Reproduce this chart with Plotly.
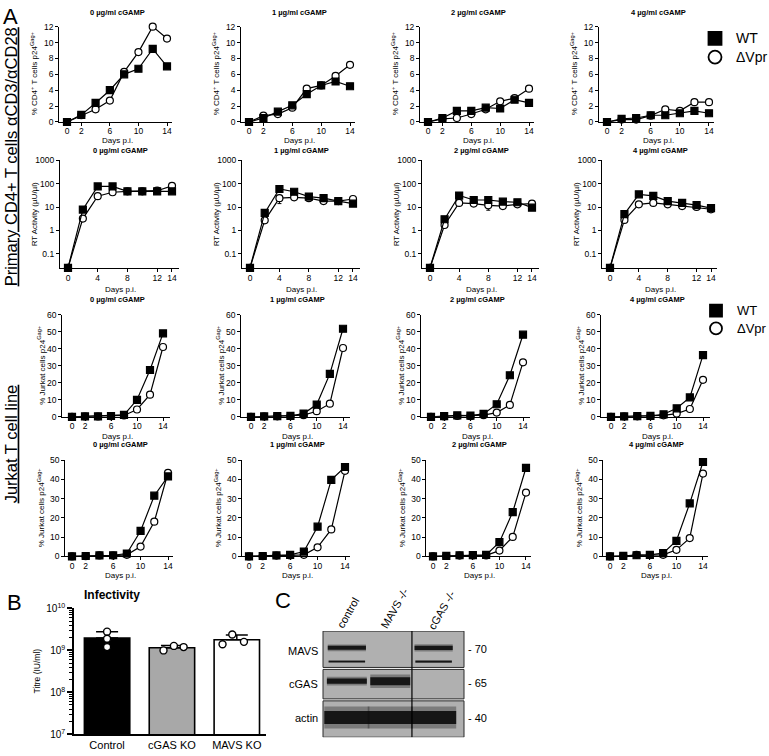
import plotly.graph_objects as go
import statistics

W, H = 769, 756
FONT = "Liberation Sans"

# ---------------- data ----------------
days = [0, 2, 4, 6, 8, 10, 12, 14]
doses = ["0 µg/ml cGAMP", "1 µg/ml cGAMP", "2 µg/ml cGAMP", "4 µg/ml cGAMP"]
series_names = ["WT", "ΔVpr"]

# % CD4+ T cells p24Gag+ (primary cells)
cd4_wt = [
    [0, 0.9, 2.4, 4.0, 6.0, 6.7, 9.2, 7.0],
    [0, 0.5, 1.3, 2.1, 3.5, 4.6, 5.1, 4.5],
    [0, 0.5, 1.4, 1.4, 1.8, 1.7, 2.8, 2.4],
    [0, 0.4, 0.5, 0.85, 0.85, 1.1, 1.4, 1.1],
]
cd4_dvpr = [
    [0, 0.85, 1.6, 2.7, 6.3, 8.8, 12.0, 10.5],
    [0, 0.8, 1.0, 1.8, 4.2, 4.6, 5.8, 7.2],
    [0, 0.4, 0.5, 1.0, 1.6, 2.6, 3.0, 4.2],
    [0, 0.3, 0.3, 0.8, 1.6, 1.4, 2.5, 2.5],
]

# RT activity (µU/µl)
rt_wt = [
    [0.025, 7.8, 76, 76, 47, 47, 47, 47],
    [0.025, 5.6, 59, 45, 28, 24, 18, 14],
    [0.025, 3.0, 31, 20, 20, 17, 16, 9.4],
    [0.025, 5.0, 35, 30, 18, 15, 12, 9],
]
rt_dvpr = [
    [0.025, 3.2, 29, 43, 47, 47, 50, 81],
    [0.025, 2.7, 24, 26, 24, 18, 18, 22],
    [0.025, 1.7, 15, 14, 11.8, 11, 13, 14],
    [0.025, 2.8, 13, 15, 13, 11, 10, 8],
]
rt_wt_sd = [
    [0, 0, 0, 0, 0, 0, 0, 0],
    [0, 0, 0, 0, 0, 0, 0, 0],
    [0, 0, 0, 5, 0, 0, 0, 0],
    [0, 0, 0, 0, 0, 0, 0, 0],
]
rt_dvpr_sd = [
    [0, 0, 0, 0, 0, 0, 0, 0],
    [0, 0, 10, 0, 0, 0, 0, 0],
    [0, 0, 0, 0, 4.5, 0, 0, 0],
    [0, 0, 0, 0, 0, 0, 0, 0],
]

# % Jurkat cells p24Gag+ (experiment 1)
jurkat1_wt = [
    [0, 0.3, 0.3, 0.5, 1.2, 10.0, 27.5, 49.0],
    [0, 0.3, 0.4, 0.6, 1.9, 7.2, 25.2, 51.7],
    [0, 0.4, 0.9, 0.7, 1.7, 7.4, 24.4, 48.2],
    [0, 0.3, 0.4, 0.6, 1.5, 5.0, 11.4, 36.2],
]
jurkat1_dvpr = [
    [0, 0.2, 0.2, 0.3, 0.8, 4.3, 13.0, 41.0],
    [0, 0.2, 0.3, 0.4, 1.0, 3.3, 7.7, 40.4],
    [0, 0.2, 0.5, 0.4, 1.0, 2.5, 7.0, 32.0],
    [0, 0.2, 0.3, 0.4, 0.9, 1.9, 4.6, 21.7],
]
# % Jurkat cells p24Gag+ (experiment 2)
jurkat2_wt = [
    [0, 0.2, 0.5, 0.6, 1.5, 13.2, 31.5, 41.5],
    [0, 0.2, 0.5, 0.8, 2.5, 15.4, 39.7, 46.4],
    [0, 0.3, 0.6, 0.7, 0.8, 7.4, 23.0, 46.0],
    [0, 0.3, 0.6, 0.8, 1.7, 8.1, 27.5, 49.0],
]
jurkat2_dvpr = [
    [0, 0.1, 0.5, 0.4, 0.8, 5.1, 18.0, 43.4],
    [0, 0.1, 0.4, 0.5, 0.8, 4.7, 14.0, 44.4],
    [0, 0.2, 0.4, 0.5, 0.5, 3.0, 10.1, 33.1],
    [0, 0.2, 0.8, 0.6, 0.8, 3.4, 9.5, 43.0],
]

# Panel B: infectivity
titre_categories = ["Control", "cGAS KO", "MAVS KO"]
titre_reps = [
    [2.8e9, 1.9e9, 1.2e9],
    [1.0e9, 1.28e9, 1.2e9],
    [2.4e9, 1.4e9, 1.6e9],
]

# Panel C: western blot (relative band intensity per lane)
blot_lanes = ["control", "MAVS -/-", "cGAS -/-"]
blot_bands = ["MAVS", "MAVS (lower)", "cGAS", "actin"]
blot_intensity = [
    [0.8, 0.0, 0.85],
    [0.45, 0.0, 0.5],
    [0.65, 1.0, 0.0],
    [1.0, 1.0, 1.0],
]
blot_strip_labels = ["MAVS", "cGAS", "actin"]
blot_mw = ["- 70", "- 65", "- 40"]

# ---------------- helpers / style ----------------
def fx(p):
    return p / W

def fy(p):
    return 1 - p / H

fig = go.Figure()
layout = dict(
    width=W, height=H, margin=dict(l=0, r=0, t=0, b=0),
    paper_bgcolor="white", plot_bgcolor="rgba(0,0,0,0)", showlegend=False,
    font=dict(family=FONT, color="black"),
)
annotations = []
shapes = []

def ann(text, x, y, size, **kw):
    d = dict(text=text, x=fx(x), y=fy(y), xref="paper", yref="paper",
             showarrow=False, font=dict(family=FONT, size=size, color="black"),
             xanchor="center", yanchor="middle")
    d.update(kw)
    annotations.append(d)

def axis_common():
    return dict(showline=True, linecolor="black", linewidth=1, ticks="outside",
                ticklen=3, tickwidth=1, tickcolor="black", showgrid=False,
                zeroline=False, tickfont=dict(family=FONT, size=8.5, color="black"))

rows = [
    dict(wt=cd4_wt, dv=cd4_dvpr, wsd=None, dsd=None, log=False, yrange=[0, 12],
         ytick=[0, 2, 4, 6, 8, 10, 12], xtick=[0, 2, 6, 10, 14], top=20, bot=117,
         xmin=-1.1, xmax=14.7, cols=[(67, 167), (249, 350), (428, 529), (607, 709)],
         ytitle="% CD4<sup>+</sup> T cells p24<sup>Gag+</sup>", title_y=6, xtitle_y=136, ydx=-33),
    dict(wt=rt_wt, dv=rt_dvpr, wsd=rt_wt_sd, dsd=rt_dvpr_sd, log=True, yrange=[-1.63, 3],
         ytick=[0.1, 1, 10, 100, 1000], xtick=[0, 4, 8, 12, 14], top=156, bot=266,
         xmin=-1.1, xmax=14.9, cols=[(68, 172), (250, 353), (430, 532), (610, 711)],
         ytitle="RT Activity (µU/µl)", title_y=146, xtitle_y=287, ydx=-34),
    dict(wt=jurkat1_wt, dv=jurkat1_dvpr, wsd=None, dsd=None, log=False, yrange=[0, 60],
         ytick=[0, 10, 20, 30, 40, 50, 60], xtick=[0, 2, 6, 10, 14], top=313, bot=417,
         xmin=-1.5, xmax=15.0, cols=[(72, 163), (251, 343), (431, 523), (611, 703)],
         ytitle="% Jurkat cells p24<sup>Gag+</sup>", title_y=298, xtitle_y=437, ydx=-31),
    dict(wt=jurkat2_wt, dv=jurkat2_dvpr, wsd=None, dsd=None, log=False, yrange=[0, 50],
         ytick=[0, 10, 20, 30, 40, 50], xtick=[0, 2, 6, 10, 14], top=461, bot=559,
         xmin=-1.0, xmax=14.7, cols=[(72, 168), (249, 345), (433, 526), (610, 703)],
         ytitle="% Jurkat cells p24<sup>Gag+</sup>", title_y=445, xtitle_y=578, ydx=-31),
]

for r, row in enumerate(rows):
    for c, (p0, p14) in enumerate(row["cols"]):
        k = r * 4 + c + 1
        sfx = "" if k == 1 else str(k)
        sc = (p14 - p0) / 14.0
        left = p0 + row["xmin"] * sc
        right = p0 + row["xmax"] * sc
        xa = axis_common()
        xa.update(domain=[fx(left), fx(right)], range=[row["xmin"], row["xmax"]],
                  tickmode="array", tickvals=row["xtick"], anchor="y" + sfx,
                  ticklabelstandoff=-2)
        ya = axis_common()
        ya.update(domain=[fy(row["bot"]), fy(row["top"])], range=row["yrange"],
                  tickmode="array", tickvals=row["ytick"], anchor="x" + sfx)
        if row["log"]:
            ya["type"] = "log"
            ya["ticktext"] = ["0.1", "1", "10", "100", "1000"]
        layout["xaxis" + sfx] = xa
        layout["yaxis" + sfx] = ya

        for name, vals, sds, sym, fill in [
            ("ΔVpr", row["dv"][c], row["dsd"], "circle", "white"),
            ("WT", row["wt"][c], row["wsd"], "square", "black"),
        ]:
            tr = dict(
                x=days, y=vals, name=name, mode="lines+markers",
                line=dict(color="black", width=1.2),
                marker=dict(symbol=sym, size=7, color=fill, line=dict(color="black", width=1.2)),
                cliponaxis=False, xaxis="x" + sfx, yaxis="y" + sfx,
            )
            if sds is not None:
                tr["error_y"] = dict(type="data", symmetric=False, array=[0] * len(days),
                                     arrayminus=sds[c], color="black", thickness=1, width=2)
            fig.add_trace(go.Scatter(**tr))

        cx = (p0 + p14) / 2
        ann("<b>" + doses[c] + "</b>", cx, row["title_y"], 7.5)
        ann("Days p.i.", cx, row["xtitle_y"], 8)
        ann(row["ytitle"], p0 + row["ydx"], (row["top"] + row["bot"]) / 2, 8, textangle=-90)

        if row["log"]:
            # axis break below 0.1
            shapes.append(dict(type="rect", xref="x" + sfx, yref="y" + sfx,
                               x0=row["xmin"] - 0.4, x1=0.55, y0=-1.40, y1=-1.07,
                               fillcolor="white", line=dict(width=0), layer="above"))
            shapes.append(dict(type="line", xref="x" + sfx, yref="y" + sfx,
                               x0=row["xmin"] - 0.4, x1=row["xmin"] + 0.3, y0=-1.40, y1=-1.40,
                               line=dict(color="black", width=1), layer="above"))

# ---------------- legends ----------------
layout["xaxis19"] = dict(domain=[0, 1], range=[0, W], visible=False, fixedrange=True, anchor="y19")
layout["yaxis19"] = dict(domain=[0, 1], range=[H, 0], visible=False, fixedrange=True, anchor="x19")
for (lx, ly0, dy, msize, fsize) in [(715, 32, 19, 13, 14), (716, 309, 18, 12, 13)]:
    for i, (name, sym, fill) in enumerate(zip(series_names, ["square", "circle"], ["black", "white"])):
        fig.add_trace(go.Scatter(
            x=[lx], y=[ly0 + i * dy], mode="markers", name=name,
            marker=dict(symbol=sym, size=msize, color=fill, line=dict(color="black", width=1.8)),
            xaxis="x19", yaxis="y19", cliponaxis=False, hoverinfo="skip"))
        ann(name, lx + 19, ly0 + i * dy, fsize, xanchor="left")

# ---------------- big row labels / panel letters ----------------
ann("<u>Primary CD4+ T cells αCD3/αCD28</u>", 11, 153, 16.5, textangle=-90)
ann("<u>Jurkat T cell line</u>", 11, 445, 16.5, textangle=-90)
ann("A", 10, 10, 22)
ann("B", 14, 606, 22)
ann("C", 283, 604, 22)

# ---------------- Panel B ----------------
means = [statistics.mean(v) for v in titre_reps]
sds = [statistics.stdev(v) for v in titre_reps]
bar_x = list(range(len(titre_categories)))
fig.add_trace(go.Bar(
    x=bar_x, y=means, width=0.7, name="Titre",
    marker=dict(color=["black", "#a8a8a8", "white"], line=dict(color="black", width=1.6)),
    error_y=dict(type="data", symmetric=False, array=sds, arrayminus=[0] * 3,
                 color="black", thickness=1.5, width=11),
    xaxis="x17", yaxis="y17"))
dot_offsets = [[0.0, 0.0, 0.0], [-0.13, 0.03, 0.18], [-0.07, -0.22, 0.11]]
dx, dy = [], []
for i, reps in enumerate(titre_reps):
    for j, v in enumerate(reps):
        dx.append(bar_x[i] + dot_offsets[i][j])
        dy.append(v)
fig.add_trace(go.Scatter(
    x=dx, y=dy, mode="markers", name="replicates",
    marker=dict(symbol="circle", size=7, color="white", line=dict(color="black", width=1.4)),
    cliponaxis=False, xaxis="x17", yaxis="y17"))
decades = [7, 8, 9, 10]
minor_vals = [m * 10 ** d for d in decades[:-1] for m in range(2, 10)]
layout["xaxis17"] = dict(domain=[fx(74), fx(266)], range=[-0.51, 2.45], showline=True,
                         linecolor="black", linewidth=1.6, ticks="", tickmode="array",
                         tickvals=bar_x, ticktext=titre_categories, showgrid=False, zeroline=False,
                         tickfont=dict(family=FONT, size=11, color="black"), anchor="y17")
layout["yaxis17"] = dict(domain=[fy(740), fy(612)], type="log", range=[7, 10], showline=True,
                         linecolor="black", linewidth=1.6, ticks="outside", ticklen=5,
                         tickwidth=1.5, tickcolor="black", tickmode="array",
                         tickvals=[10 ** d for d in decades],
                         ticktext=["10<sup>%d</sup>" % d for d in decades],
                         minor=dict(ticks="outside", ticklen=3, tickwidth=1, tickcolor="black",
                                    tickmode="array", tickvals=minor_vals),
                         showgrid=False, zeroline=False,
                         tickfont=dict(family=FONT, size=10, color="black"), anchor="x17")
ann("<b>Infectivity</b>", 112, 598, 12)
ann("Titre (IU/ml)", 37, 676, 8.5, textangle=-90)

# ---------------- Panel C: blot ----------------
strip_bounds = [(0, 37), (39, 69), (71, 108)]
band_y = [17, 31, 51, 88]
band_max_w = [5, 3.5, 8, 13]
band_half = [0.44, 0.42, 0.46, 0.52]
layout["xaxis18"] = dict(domain=[fx(323), fx(464)], range=[-0.55, 2.7], visible=False, anchor="y18")
layout["yaxis18"] = dict(domain=[fy(743), fy(635)], range=[108, 0], visible=False, anchor="x18")
for (s0, s1) in strip_bounds:
    shapes.append(dict(type="rect", xref="x18 domain", yref="y18", x0=0, x1=1, y0=s0, y1=s1,
                       fillcolor="#b0b0b0", line=dict(color="#2a2a2a", width=1), layer="below"))
for b, name in enumerate(blot_bands):
    for li, lane in enumerate(blot_lanes):
        inten = blot_intensity[b][li]
        if inten <= 0:
            continue
        xs = [li - band_half[b], li + band_half[b]]
        ys = [band_y[b], band_y[b]]
        fig.add_trace(go.Scatter(x=xs, y=ys, mode="lines", name=name + " " + lane,
                                 line=dict(color="#1a1a1a", width=band_max_w[b] * inten * 1.7),
                                 opacity=0.35, xaxis="x18", yaxis="y18", hoverinfo="skip"))
        fig.add_trace(go.Scatter(x=xs, y=ys, mode="lines", name=name + " " + lane,
                                 line=dict(color="#111111", width=band_max_w[b] * inten),
                                 opacity=0.95, xaxis="x18", yaxis="y18", hoverinfo="skip"))
shapes.append(dict(type="line", xref="x18", yref="y18", x0=1.5, x1=1.5, y0=0, y1=108,
                   line=dict(color="black", width=1.2), layer="above"))
strip_label_y = [655, 689, 723]
mw_y = [653, 688, 723]
for i, lab in enumerate(blot_strip_labels):
    ann(lab, 320, strip_label_y[i], 11, xanchor="right")
    ann(blot_mw[i], 466, mw_y[i], 11, xanchor="left")
lane_label_pos = [(348, 617), (395, 612), (442, 614)]
for lab, (lx, ly) in zip(blot_lanes, lane_label_pos):
    ann(lab, lx, ly, 11, textangle=-60)

layout["annotations"] = annotations
layout["shapes"] = shapes
fig.update_layout(**layout)
fig.write_html("out.html", config={"displayModeBar": False},
               post_script="document.body.style.margin='0';document.body.style.overflow='hidden';")
